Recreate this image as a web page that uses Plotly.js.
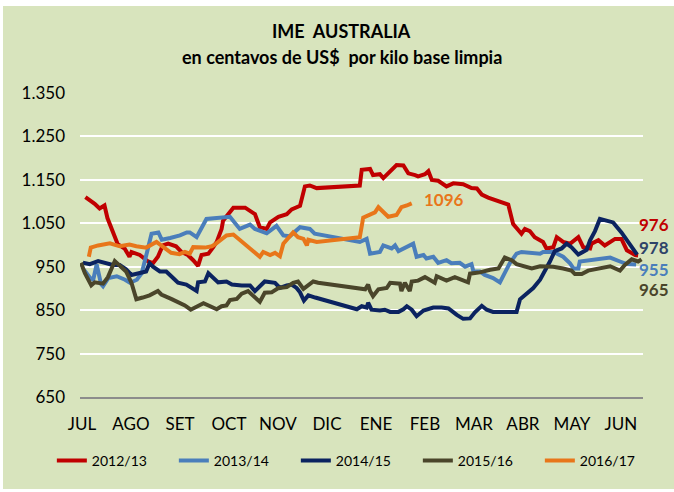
<!DOCTYPE html>
<html>
<head>
<meta charset="utf-8">
<script src="https://cdn.plot.ly/plotly-3.0.1.min.js"></script>
<style>
html,body{margin:0;padding:0;background:#ffffff;}
#chart{position:absolute;left:3px;top:6px;width:671px;height:483px;}
</style>
</head>
<body>
<div id="chart"></div>
<script>
// Month tick labels (x = month position, 0 = JUL)
const monthTicks = [0,1,2,3,4,5,6,7,8,9,10,11];
const monthLabels = ["JUL","AGO","SET","OCT","NOV","DIC","ENE","FEB","MAR","ABR","MAY","JUN"];
const yTicks = [650,750,850,950,1050,1150,1250,1350];

// 2012/13
const x1213 = [0.07,0.26,0.36,0.46,0.52,0.73,0.87,0.97,1.01,1.18,1.35,1.45,1.55,1.65,1.76,1.92,2.03,2.16,2.27,2.37,2.44,2.58,2.68,2.75,2.85,2.88,3.09,3.33,3.53,3.63,3.77,3.84,4.01,4.18,4.28,4.45,4.55,4.65,4.79,5.67,5.71,5.88,5.94,6.08,6.15,6.29,6.42,6.56,6.66,6.80,6.86,7.00,7.07,7.14,7.27,7.44,7.58,7.78,7.95,8.06,8.16,8.29,8.70,8.80,8.97,9.04,9.14,9.24,9.41,9.48,9.62,9.69,9.82,9.96,10.13,10.23,10.37,10.40,10.54,10.67,10.88,11.01,11.12,11.29,11.35];
const y1213 = [1110,1095,1084,1091,1062,1002,992,973,984,977,962,958,973,999,1003,997,984,977,965,952,977,980,995,1007,1037,1056,1086,1086,1071,1041,1037,1052,1065,1071,1082,1090,1135,1137,1131,1137,1173,1175,1161,1163,1154,1169,1184,1183,1165,1161,1158,1163,1170,1150,1148,1135,1142,1140,1131,1130,1116,1109,1093,1048,1026,1037,1032,1018,1007,992,995,1018,1007,1003,1018,995,992,1003,1011,999,1014,1014,988,977,976];

// 2013/14
const x1314 = [0.04,0.16,0.23,0.30,0.39,0.43,0.54,0.71,0.88,0.98,1.12,1.22,1.32,1.42,1.56,1.63,1.80,2.00,2.14,2.20,2.34,2.54,2.75,3.02,3.22,3.33,3.43,3.53,3.77,3.97,4.11,4.24,4.45,4.65,4.75,5.67,5.81,5.88,6.08,6.15,6.32,6.39,6.46,6.76,6.83,6.97,7.03,7.17,7.27,7.44,7.54,7.71,7.82,7.95,7.99,8.12,8.22,8.39,8.53,8.73,8.87,8.97,9.14,9.35,9.41,9.62,9.82,9.96,10.03,10.13,10.16,10.43,10.78,10.98,11.12,11.31];
const y1314 = [943,925,920,955,910,905,924,928,920,913,920,935,980,1026,1029,1012,1016,1022,1029,1029,1018,1060,1062,1065,1037,1041,1047,1037,1027,1044,1022,1020,1041,1037,1026,1007,1014,980,984,999,992,999,986,1003,973,977,969,973,959,965,958,959,950,956,939,939,931,924,914,958,980,984,982,980,984,984,973,958,946,946,962,965,971,962,956,955];

// 2014/15
const x1415 = [0.02,0.16,0.33,0.46,0.63,0.77,0.90,1.01,1.14,1.31,1.38,1.45,1.59,1.72,1.86,1.96,2.13,2.30,2.34,2.37,2.51,2.58,2.68,2.78,2.95,3.06,3.26,3.43,3.53,3.73,3.94,4.04,4.18,4.28,4.38,4.45,4.53,4.62,4.76,5.61,5.71,5.81,5.84,5.91,6.08,6.18,6.29,6.46,6.56,6.63,6.73,6.83,6.97,7.17,7.34,7.48,7.65,7.78,7.92,8.02,8.16,8.26,8.39,8.87,8.94,9.21,9.35,9.45,9.55,9.65,9.79,9.89,9.99,10.13,10.30,10.37,10.47,10.57,10.74,10.84,11.01,11.12,11.25,11.33];
const y1415 = [959,956,963,959,954,954,944,931,934,939,958,950,939,939,924,913,909,896,894,914,916,935,924,914,916,909,907,907,894,916,913,901,907,909,901,891,872,884,879,852,859,856,867,851,849,851,846,846,852,859,851,836,849,856,856,854,839,830,831,845,860,851,846,846,875,901,920,939,962,986,992,1003,995,978,989,1011,1032,1060,1054,1052,1029,1011,988,978];

// 2015/16
const x1516 = [-0.02,0.06,0.19,0.26,0.43,0.53,0.67,0.80,0.90,1.01,1.11,1.24,1.38,1.55,1.62,1.82,2.10,2.22,2.48,2.75,2.85,2.95,3.02,3.16,3.26,3.39,3.50,3.63,3.73,3.87,4.01,4.18,4.31,4.41,4.52,4.72,4.82,5.78,5.84,5.88,5.94,6.05,6.22,6.29,6.49,6.52,6.59,6.69,6.73,6.86,7.00,7.20,7.24,7.44,7.61,7.75,7.88,7.92,8.12,8.33,8.50,8.63,8.77,8.87,9.18,9.35,9.62,9.82,9.99,10.06,10.20,10.33,10.61,10.78,10.98,11.08,11.22,11.35,11.42];
const y1516 = [959,935,907,914,911,926,963,950,939,913,875,879,884,894,886,876,861,851,866,852,859,861,873,876,888,894,882,869,890,891,901,903,913,916,899,916,913,898,909,894,882,898,901,913,911,894,913,894,916,918,926,913,928,918,926,920,914,934,937,943,946,971,965,956,946,951,950,946,941,933,933,941,946,951,941,954,967,962,967];

// 2016/17
const x1617 = [0.14,0.18,0.33,0.57,0.77,0.97,1.11,1.31,1.52,1.65,1.82,1.99,2.10,2.20,2.27,2.51,2.65,2.71,2.95,3.09,3.29,3.46,3.63,3.70,3.84,3.94,4.04,4.11,4.24,4.31,4.41,4.52,4.59,4.62,4.79,5.67,5.74,5.84,5.98,6.05,6.25,6.42,6.52,6.63,6.73];
const y1617 = [973,994,999,1004,997,1001,997,994,1007,997,982,979,984,980,995,994,997,1001,1022,1024,1004,989,973,984,977,982,974,1003,1018,1029,1018,1014,999,1012,1007,1018,1063,1067,1075,1087,1065,1069,1087,1091,1096];

// End-of-series labels
const endLabels = ["976","978","955","965","1096"];

const seriesNames = ["2012/13","2013/14","2014/15","2015/16","2016/17"];
const colors = ["#c00000","#4a7ebb","#0b2360","#4a452a","#e8761a"];
const xs = [x1213,x1314,x1415,x1516,x1617];
const ys = [y1213,y1314,y1415,y1516,y1617];

const traces = seriesNames.map((n,i)=>({
  type:'scatter', mode:'lines', name:n, x:xs[i], y:ys[i],
  line:{color:colors[i], width:4}, hoverinfo:'skip'
}));

const labelColors = ["#c00000","#2e4369","#4a7ebb","#4a452a","#e8761a"];
// [xref, x, y, size]
const labelPos = [['paper',0.992,1048,17],['paper',0.992,995,17],['paper',0.992,944,17],['paper',0.992,898,17],['x',6.97,1105,17]];
const annotations = endLabels.map((t,i)=>({
  x:labelPos[i][1], y:labelPos[i][2], xref:labelPos[i][0], yref:'y', text:t, showarrow:false,
  xanchor:'left', yanchor:'middle', borderpad:0,
  font:{family:'Lato', size:labelPos[i][3], color:labelColors[i], weight:'bold'}
}));
annotations.push({x:0.465,y:1.205,xref:'paper',yref:'paper',text:'<b>IME  AUSTRALIA</b>',showarrow:false,
  xanchor:'center',yanchor:'middle',font:{family:'Lato',size:18,color:'#000000'}});
annotations.push({x:0.465,y:1.12,xref:'paper',yref:'paper',text:'<b>en centavos de US$  por kilo base limpia</b>',showarrow:false,
  xanchor:'center',yanchor:'middle',font:{family:'Lato',size:18,color:'#000000'}});

const layout = {
  width:671, height:483,
  margin:{l:77, r:31, t:87, b:86},
  paper_bgcolor:'#d8e4bd', plot_bgcolor:'#d8e4bd',
  separators:',.',
  showlegend:true,
  legend:{orientation:'h', x:-0.05, xanchor:'left', y:-0.21, yanchor:'middle',
    font:{family:'Lato', size:14, color:'#000000'}, bgcolor:'rgba(0,0,0,0)', entrywidth:77},
  xaxis:{range:[-0.04,11.45], tickvals:monthTicks, ticktext:monthLabels, showgrid:false, zeroline:false,
    showline:true, linecolor:'#8c8c8c', linewidth:2, ticks:'', ticklabelstandoff:11,
    tickfont:{family:'Lato', size:17, color:'#000000'}, fixedrange:true},
  yaxis:{range:[650,1350], tickvals:yTicks, tickformat:',d', showgrid:true, gridcolor:'#ffffff', gridwidth:2,
    zeroline:false, showline:false, ticks:'', ticklabelstandoff:14,
    tickfont:{family:'Lato', size:17, color:'#000000'}, fixedrange:true},
  annotations:annotations,
  hovermode:false
};

Plotly.newPlot('chart', traces, layout, {displayModeBar:false, staticPlot:true});
</script>
</body>
</html>
